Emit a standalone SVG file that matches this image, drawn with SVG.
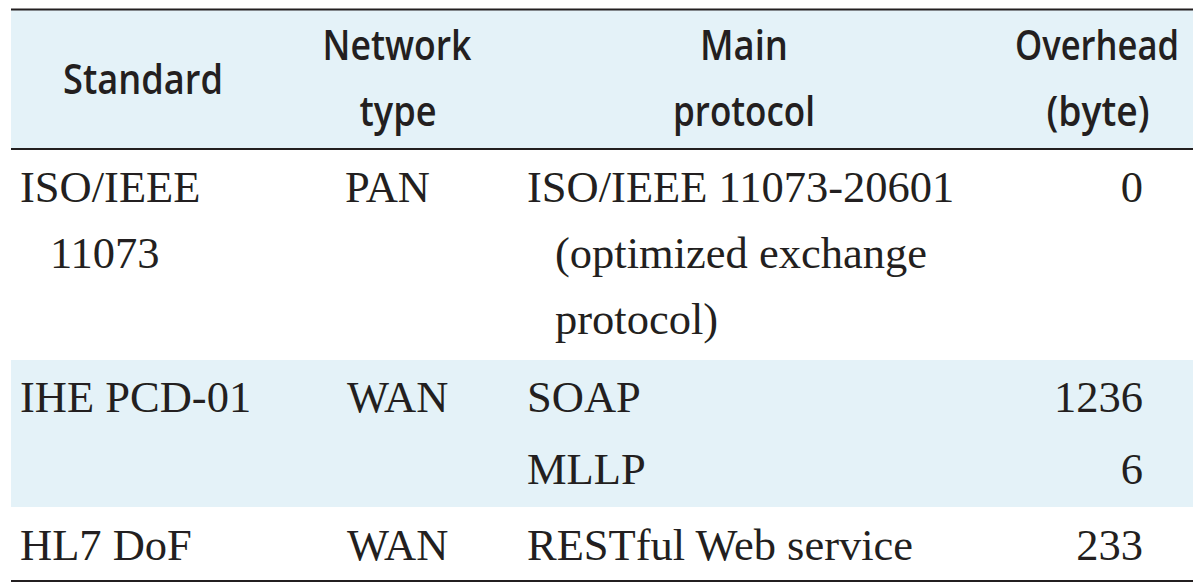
<svg xmlns="http://www.w3.org/2000/svg" width="1200" height="587" viewBox="0 0 1200 587">
  <style>
    .hd { font-family: "Open Sans", "Noto Sans", sans-serif; font-weight: 600; font-size: 42px; fill: #231f20; text-anchor: middle; }
    .bd { font-family: "Liberation Serif", "Times New Roman", serif; font-size: 44.5px; fill: #231f20; }
    .num { text-anchor: end; }
    .rule { stroke: #231f20; stroke-width: 2; }
    .band { fill: #e4f2f8; }
  </style>
  <rect width="1200" height="587" fill="#ffffff"/>
  <g id="backgrounds">
    <rect class="band" x="11" y="10" width="1182" height="139"/>
    <rect class="band" x="11" y="360" width="1182" height="147"/>
  </g>
  <g id="rules">
    <line class="rule" x1="11" y1="9.5" x2="1193" y2="9.5"/>
    <line class="rule" x1="11" y1="149" x2="1193" y2="149"/>
    <line class="rule" x1="11" y1="581" x2="1193" y2="581"/>
  </g>
  <g id="header">
    <text class="hd" x="143" y="94" textLength="160" lengthAdjust="spacingAndGlyphs">Standard</text>
    <text class="hd" x="397" y="60" textLength="149" lengthAdjust="spacingAndGlyphs">Network</text>
    <text class="hd" x="398" y="126" textLength="77" lengthAdjust="spacingAndGlyphs">type</text>
    <text class="hd" x="744" y="60" textLength="88" lengthAdjust="spacingAndGlyphs">Main</text>
    <text class="hd" x="744" y="126" textLength="142" lengthAdjust="spacingAndGlyphs">protocol</text>
    <text class="hd" x="1097" y="60" textLength="164" lengthAdjust="spacingAndGlyphs">Overhead</text>
    <text class="hd" x="1098" y="126" textLength="103" lengthAdjust="spacingAndGlyphs">(byte)</text>
  </g>
  <g id="row-iso">
    <text class="bd" x="20" y="202">ISO/IEEE</text>
    <text class="bd" x="50" y="268">11073</text>
    <text class="bd" x="345" y="202">PAN</text>
    <text class="bd" x="527" y="202">ISO/IEEE 11073-20601</text>
    <text class="bd" x="555" y="268">(optimized exchange</text>
    <text class="bd" x="555" y="334">protocol)</text>
    <text class="bd num" x="1143" y="202">0</text>
  </g>
  <g id="row-ihe">
    <text class="bd" x="20" y="412">IHE PCD-01</text>
    <text class="bd" x="347" y="412">WAN</text>
    <text class="bd" x="527" y="412">SOAP</text>
    <text class="bd" x="527" y="484">MLLP</text>
    <text class="bd num" x="1143" y="412">1236</text>
    <text class="bd num" x="1143" y="484">6</text>
  </g>
  <g id="row-hl7">
    <text class="bd" x="20" y="560">HL7 DoF</text>
    <text class="bd" x="347" y="560">WAN</text>
    <text class="bd" x="527" y="560">RESTful Web service</text>
    <text class="bd num" x="1143" y="560">233</text>
  </g>
</svg>
